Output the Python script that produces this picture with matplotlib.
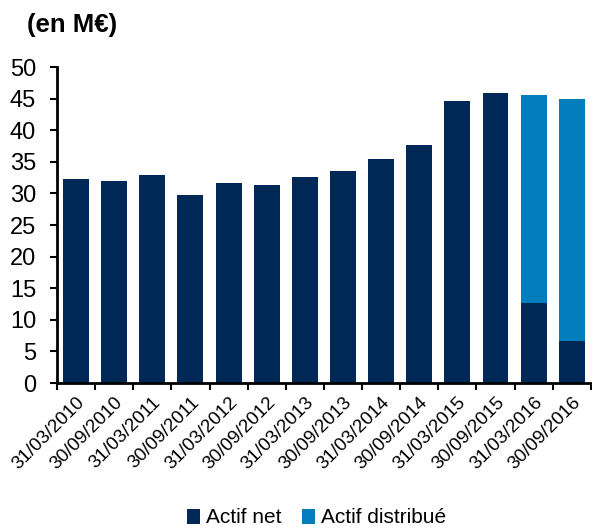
import matplotlib
matplotlib.use("Agg")
import matplotlib.pyplot as plt
import matplotlib.transforms as mtransforms
import numpy as np

plt.rcParams['font.family'] = ['Liberation Sans', 'DejaVu Sans']

dates = ["31/03/2010", "30/09/2010", "31/03/2011", "30/09/2011", "31/03/2012",
         "30/09/2012", "31/03/2013", "30/09/2013", "31/03/2014", "30/09/2014",
         "31/03/2015", "30/09/2015", "31/03/2016", "30/09/2016"]
actif_net = [32.3, 32.0, 32.9, 29.7, 31.6, 31.3, 32.6, 33.5, 35.4, 37.7,
             44.7, 45.9, 12.6, 6.6]
actif_distribue = [0, 0, 0, 0, 0, 0, 0, 0, 0, 0, 0, 0, 33.0, 38.3]
yticks = [0, 5, 10, 15, 20, 25, 30, 35, 40, 45, 50]

navy = "#002856"
blue = "#007DBA"

fig = plt.figure(figsize=(5.92, 5.28), dpi=100)
ax = fig.add_axes([0.0963, 0.2746, 0.9017, 0.5984])

x = np.arange(len(dates))
ax.bar(x, actif_net, width=0.68, color=navy, label="Actif net")
ax.bar(x, actif_distribue, width=0.68, bottom=actif_net, color=blue, label="Actif distribué")

ax.set_xlim(-0.5, len(dates) - 0.5)
ax.set_ylim(0, 50)
ax.set_yticks(yticks)
ax.set_yticklabels([str(v) for v in yticks], fontsize=17)
ax.set_xticks(x)
ax.set_xticklabels(dates, rotation=45, ha="right", rotation_mode="anchor", fontsize=13.6)
offset = mtransforms.ScaledTranslation(4 / 100, 0, fig.dpi_scale_trans)
for lab in ax.get_xticklabels():
    lab.set_transform(lab.get_transform() + offset)
ax.set_xticks(np.arange(-0.5, len(dates)), minor=True)
ax.tick_params(axis="x", which="major", length=0, pad=8)
ax.tick_params(axis="x", which="minor", length=5, width=1.5, direction="out")
ax.tick_params(axis="y", length=5, width=1.5, direction="out", pad=10)

for s in ["top", "right"]:
    ax.spines[s].set_visible(False)
ax.spines["left"].set_linewidth(2)
ax.spines["bottom"].set_linewidth(2)

fig.text(0.045, 0.952, "(en M€)", fontsize=18.5, fontweight="bold", ha="left", va="center")

fig.legend(loc="center", bbox_to_anchor=(0.535, 0.019), ncol=2, frameon=False,
           fontsize=15, handlelength=0.6, handleheight=0.75, handletextpad=0.3,
           columnspacing=1.0, borderpad=0)

fig.savefig("out.png", dpi=100)
